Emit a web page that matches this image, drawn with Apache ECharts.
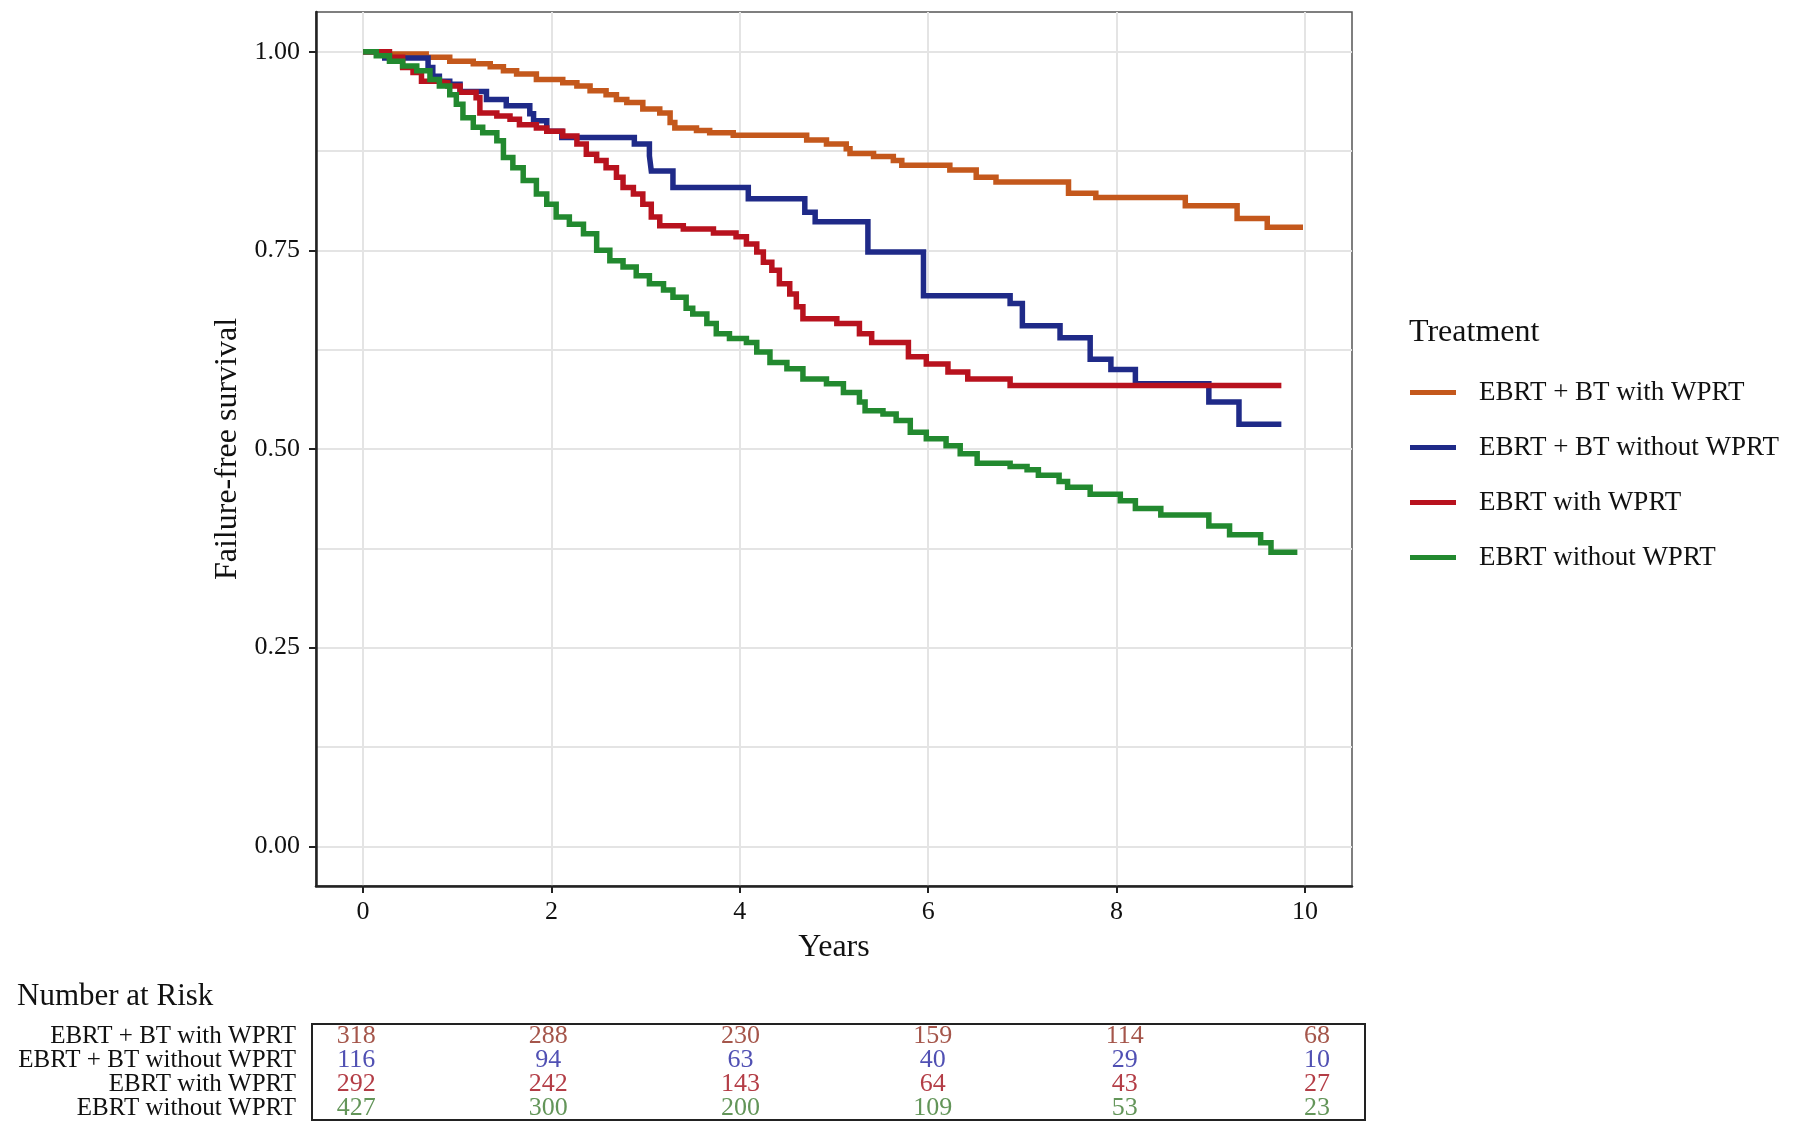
<!DOCTYPE html>
<html>
<head>
<meta charset="utf-8">
<script src="https://cdn.jsdelivr.net/npm/echarts@6.0.0/dist/echarts.min.js"></script>
<style>
html,body{margin:0;padding:0;background:#fff;}
#chart{width:1800px;height:1133px;}
</style>
</head>
<body>
<div id="chart"></div>
<script>
// ---- data ----
const seriesNames = ['EBRT + BT with WPRT', 'EBRT + BT without WPRT', 'EBRT with WPRT', 'EBRT without WPRT'];
const seriesColors = ['#C4581C', '#1F2A88', '#B8121E', '#22892F'];
const riskColors = ['#8E2C1E', '#2424A0', '#A00C18', '#3C7A30'];

const xTicks = [0, 2, 4, 6, 8, 10];
const yTicks = [0, 0.25, 0.5, 0.75, 1];
const yGrid = [0, 0.125, 0.25, 0.375, 0.5, 0.625, 0.75, 0.875, 1];

const timeBTwith = [0, 0.23, 0.67, 0.92, 1.17, 1.35, 1.49, 1.63, 1.84, 2.12, 2.27, 2.41, 2.58, 2.69, 2.80, 2.97, 3.15, 3.26, 3.31, 3.54, 3.68, 3.93, 4.71, 4.92, 5.13, 5.17, 5.42, 5.63, 5.72, 6.23, 6.51, 6.72, 7.49, 7.78, 8.73, 9.28, 9.60, 9.98];
const survBTwith = [1.0, 0.997, 0.993, 0.988, 0.985, 0.981, 0.976, 0.972, 0.965, 0.961, 0.957, 0.951, 0.946, 0.940, 0.936, 0.928, 0.923, 0.911, 0.904, 0.901, 0.898, 0.895, 0.889, 0.884, 0.878, 0.872, 0.868, 0.863, 0.857, 0.851, 0.842, 0.836, 0.822, 0.8165, 0.806, 0.790, 0.779, 0.779];

const timeBTwithout = [0, 0.23, 0.69, 0.74, 0.81, 0.92, 1.03, 1.31, 1.52, 1.77, 1.81, 1.95, 2.11, 2.88, 3.04, 3.06, 3.29, 4.09, 4.69, 4.80, 5.36, 5.95, 6.87, 7.00, 7.40, 7.72, 7.94, 8.20, 8.98, 9.30, 9.75];
const survBTwithout = [1.0, 0.992, 0.980, 0.969, 0.963, 0.959, 0.950, 0.940, 0.932, 0.922, 0.913, 0.900, 0.892, 0.884, 0.869, 0.850, 0.829, 0.815, 0.798, 0.786, 0.748, 0.693, 0.683, 0.655, 0.640, 0.613, 0.600, 0.582, 0.559, 0.531, 0.531];

const timeEBRTwith = [0, 0.28, 0.42, 0.53, 0.62, 0.78, 0.90, 1.03, 1.20, 1.24, 1.42, 1.56, 1.66, 1.84, 1.95, 2.12, 2.27, 2.37, 2.48, 2.58, 2.69, 2.76, 2.87, 2.97, 3.06, 3.15, 3.40, 3.72, 3.96, 4.07, 4.18, 4.25, 4.34, 4.42, 4.53, 4.60, 4.67, 5.03, 5.27, 5.40, 5.79, 5.98, 6.21, 6.42, 6.87, 9.75];
const survEBRTwith = [1.0, 0.993, 0.980, 0.974, 0.963, 0.961, 0.957, 0.949, 0.942, 0.923, 0.919, 0.915, 0.908, 0.904, 0.900, 0.894, 0.884, 0.871, 0.863, 0.854, 0.842, 0.829, 0.821, 0.808, 0.792, 0.781, 0.777, 0.772, 0.767, 0.758, 0.748, 0.735, 0.725, 0.708, 0.695, 0.679, 0.664, 0.658, 0.645, 0.634, 0.616, 0.607, 0.597, 0.588, 0.580, 0.580];

const timeEBRTwithout = [0, 0.14, 0.28, 0.42, 0.57, 0.71, 0.81, 0.92, 0.99, 1.06, 1.17, 1.27, 1.42, 1.49, 1.59, 1.70, 1.84, 1.95, 2.05, 2.19, 2.34, 2.48, 2.62, 2.76, 2.90, 3.04, 3.19, 3.29, 3.43, 3.50, 3.65, 3.75, 3.89, 4.07, 4.18, 4.32, 4.50, 4.67, 4.92, 5.10, 5.27, 5.33, 5.52, 5.66, 5.81, 5.98, 6.19, 6.34, 6.52, 6.87, 7.05, 7.17, 7.39, 7.48, 7.72, 8.04, 8.20, 8.47, 8.98, 9.20, 9.53, 9.64, 9.92];
const survEBRTwithout = [1.0, 0.995, 0.988, 0.982, 0.976, 0.965, 0.957, 0.946, 0.934, 0.917, 0.905, 0.898, 0.888, 0.867, 0.854, 0.838, 0.821, 0.808, 0.792, 0.783, 0.771, 0.750, 0.737, 0.729, 0.718, 0.708, 0.700, 0.691, 0.677, 0.670, 0.658, 0.645, 0.639, 0.634, 0.622, 0.609, 0.601, 0.588, 0.582, 0.571, 0.559, 0.548, 0.544, 0.536, 0.521, 0.513, 0.504, 0.494, 0.482, 0.478, 0.474, 0.467, 0.459, 0.452, 0.443, 0.435, 0.425, 0.417, 0.403, 0.392, 0.382, 0.370, 0.370];

const riskYears = [0, 2, 4, 6, 8, 10];
const riskBTwith = [318, 288, 230, 159, 114, 68];
const riskBTwithout = [116, 94, 63, 40, 29, 10];
const riskEBRTwith = [292, 242, 143, 64, 43, 27];
const riskEBRTwithout = [427, 300, 200, 109, 53, 23];

// ---- build ----
const curveTimes = [timeBTwith, timeBTwithout, timeEBRTwith, timeEBRTwithout];
const curveSurv = [survBTwith, survBTwithout, survEBRTwith, survEBRTwithout];
const riskRows = [riskBTwith, riskBTwithout, riskEBRTwith, riskEBRTwithout];

const FONT = '"Liberation Serif", "DejaVu Serif", serif';
const INK = '#111111';

const curveSeries = seriesNames.map((name, i) => ({
  name: name,
  type: 'line',
  step: 'end',
  xAxisIndex: 0,
  yAxisIndex: 0,
  showSymbol: false,
  symbol: 'none',
  color: seriesColors[i],
  lineStyle: { width: 5.5, color: seriesColors[i], join: 'miter', cap: 'butt' },
  emphasis: { disabled: true },
  data: curveTimes[i].map((t, k) => [t, curveSurv[i][k]]),
  z: 5
}));

const riskSeries = seriesNames.map((name, i) => ({
  name: 'risk-' + i,
  type: 'scatter',
  xAxisIndex: 1,
  yAxisIndex: 2,
  symbolSize: 1,
  itemStyle: { color: 'transparent' },
  label: {
    show: true,
    position: 'inside',
    formatter: p => String(p.value[2]),
    color: riskColors[i],
    fontFamily: FONT,
    fontSize: 26
  },
  emphasis: { disabled: true },
  data: riskYears.map((y, k) => [y, name, riskRows[i][k]])
}));

const chart = echarts.init(document.getElementById('chart'), null, { renderer: 'canvas' });
chart.setOption({
  animation: false,
  backgroundColor: '#ffffff',
  textStyle: { fontFamily: FONT },
  title: [
    { text: 'Treatment', left: 1404, top: 312, textStyle: { fontFamily: FONT, fontSize: 32, fontWeight: 'normal', color: INK } },
    { text: 'Number at Risk', left: 12, top: 976, textStyle: { fontFamily: FONT, fontSize: 31, fontWeight: 'normal', color: INK } }
  ],
  legend: {
    data: seriesNames,
    orient: 'vertical',
    left: 1410,
    top: 377,
    itemGap: 24,
    itemWidth: 64,
    itemHeight: 5,
    icon: 'path://M0,0H46V5H0Z M64,0L64,5Z',
    padding: 0,
    selectedMode: false,
    textStyle: { fontFamily: FONT, fontSize: 27, color: INK, lineHeight: 31 }
  },
  grid: [
    { left: 316, top: 12, width: 1036, height: 874, show: true, borderColor: '#555', borderWidth: 1.5, backgroundColor: '#fff' },
    { left: 312, top: 1024, width: 1053, height: 96, show: true, borderColor: '#222', borderWidth: 2, backgroundColor: 'transparent' }
  ],
  xAxis: [
    {
      gridIndex: 0, type: 'value', min: -0.5, max: 10.5,
      name: 'Years', nameLocation: 'middle', nameGap: 46,
      nameTextStyle: { fontFamily: FONT, fontSize: 32, color: INK },
      axisLine: { show: true, onZero: false, lineStyle: { color: '#222', width: 2.5 } },
      axisTick: { show: true, customValues: xTicks, length: 7, lineStyle: { color: '#222', width: 2 } },
      axisLabel: { show: true, customValues: xTicks, margin: 13, fontFamily: FONT, fontSize: 26, color: INK },
      splitLine: { show: true, lineStyle: { color: '#E4E4E4', width: 2 } },
      minorSplitLine: { show: false }
    },
    { gridIndex: 1, type: 'value', min: -0.46, max: 10.5, show: false }
  ],
  yAxis: [
    {
      gridIndex: 0, type: 'value', min: -0.05, max: 1.05, position: 'left',
      name: 'Failure-free survival', nameLocation: 'middle', nameGap: 70, nameRotate: 90,
      nameTextStyle: { fontFamily: FONT, fontSize: 32, color: INK },
      axisLine: { show: true, onZero: false, lineStyle: { color: '#222', width: 2.5 } },
      axisTick: { show: true, customValues: yTicks, length: 7, lineStyle: { color: '#222', width: 2 } },
      axisLabel: { show: true, customValues: yTicks, margin: 16, fontFamily: FONT, fontSize: 26, color: INK, formatter: v => Number(v).toFixed(2) },
      splitLine: { show: false }
    },
    {
      gridIndex: 0, type: 'value', min: -0.05, max: 1.05, position: 'right',
      axisLine: { show: false },
      axisTick: { show: false, customValues: yGrid },
      axisLabel: { show: false, customValues: yGrid },
      splitLine: { show: true, lineStyle: { color: '#E4E4E4', width: 2 } }
    },
    {
      gridIndex: 1, type: 'category', inverse: true, data: seriesNames,
      axisLine: { show: false }, axisTick: { show: false }, splitLine: { show: false },
      axisLabel: { show: true, interval: 0, hideOverlap: false, margin: 16, fontFamily: FONT, fontSize: 25, color: INK }
    }
  ],
  series: curveSeries.concat(riskSeries)
});
</script>
</body>
</html>
